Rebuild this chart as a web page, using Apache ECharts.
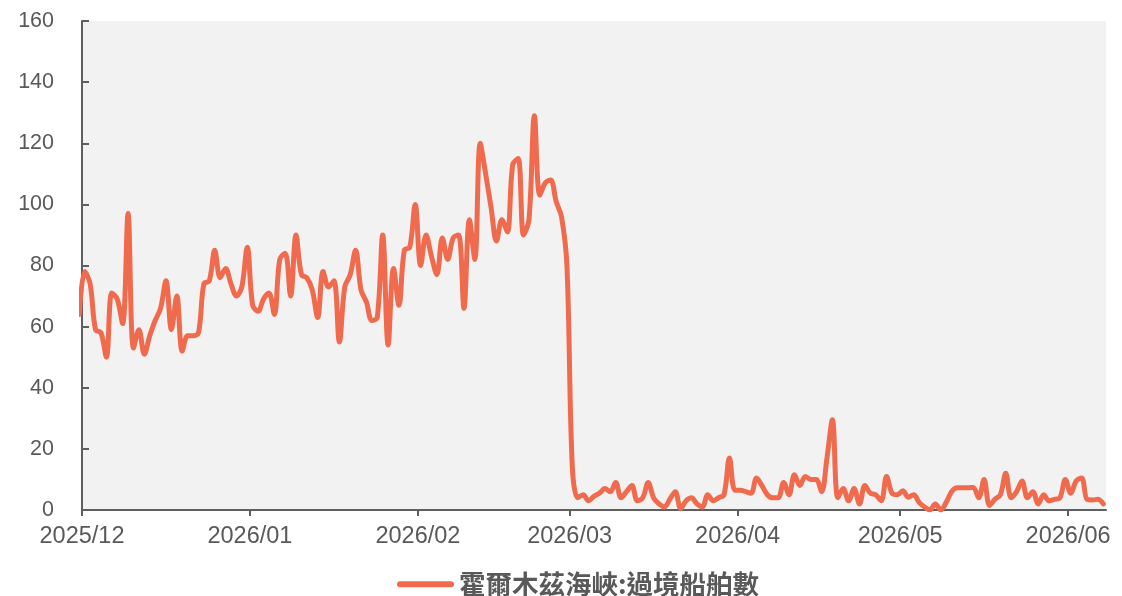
<!DOCTYPE html>
<html>
<head>
<meta charset="utf-8">
<script src="https://cdn.jsdelivr.net/npm/echarts@6/dist/echarts.min.js"></script>
<style>
  html, body { margin: 0; padding: 0; background: #ffffff; }
  #chart { width: 1122px; height: 596px; }
</style>
</head>
<body>
<div id="chart"></div>
<script>
// Daily transits, one value per day (plotted at midday), first point is 2025-11-30
const seriesName = '霍爾木茲海峽:過境船舶數';
const startDay = [2025, 10, 30];
const nov = [64];
const dec = [78, 74, 59, 58, 50, 71, 69, 61, 97, 53, 59, 51, 57, 62, 66, 75, 59, 70, 52, 57, 57, 58, 74, 75, 85, 76, 79, 74, 70, 73, 86];
const jan = [67, 65, 69, 71, 64, 82, 84, 70, 90, 77, 76, 72, 63, 78, 73, 75, 55, 73, 77, 85, 72, 68, 62, 63, 90, 54, 79, 67, 85, 86, 100];
const feb = [80, 90, 83, 77, 89, 82, 89, 90, 66, 95, 82, 120, 110, 99, 88, 95, 91, 113, 115, 90, 95, 129, 103, 107, 108, 101, 96, 80];
const mar = [14, 4, 5, 3, 4.5, 5.5, 7, 6, 9, 4, 6, 8, 3, 4, 9, 4, 2, 1, 3.5, 6, 0.5, 3, 4, 2, 1, 5, 3, 4, 5, 17, 6.5];
const apr = [6.5, 6, 5.5, 10.5, 8, 5, 4, 4, 9, 5, 11.5, 8, 11, 10, 10, 6, 17, 29.5, 4, 7, 3, 7, 2, 8, 5.5, 5, 3, 11, 5.5, 5];
const may = [6.3, 4.2, 5, 2.5, 1, 0, 2, 0, 2.5, 6, 7.3, 7.3, 7.3, 7.4, 4, 10, 1.5, 3.5, 5, 12, 4, 6, 9.5, 4, 6, 2, 5, 3, 3.5, 4, 10];
const jun = [5.5, 9.5, 10.5, 3.5, 3.3, 3.5, 2];
const yTicks = [0, 20, 40, 60, 80, 100, 120, 140, 160];

const values = [].concat(nov, dec, jan, feb, mar, apr, may, jun);
const data = values.map(function (v, i) {
  const d = new Date(startDay[0], startDay[1], startDay[2] + i, 12, 0, 0);
  return [d.getTime(), v];
});

const DAY = 86400000;
const chart = echarts.init(document.getElementById('chart'), null, { renderer: 'canvas' });
const numFont = 'Liberation Sans, Arial, sans-serif';
const axisColor = '#5f5f5f';
chart.setOption({
  animation: false,
  backgroundColor: '#ffffff',
  grid: {
    left: 82, right: 16, top: 21, bottom: 86,
    show: true, backgroundColor: '#f2f2f2', borderWidth: 0
  },
  legend: {
    left: 392, top: 566,
    data: [seriesName],
    icon: 'path://M3,0 L54,0 A3,3 0 0 1 54,6 L3,6 A3,3 0 0 1 3,0 Z',
    itemWidth: 57, itemHeight: 6,
    itemGap: 10,
    textStyle: {
      fontFamily: 'Noto Sans CJK TC, sans-serif',
      fontWeight: 'bold', fontSize: 26.5, color: '#595959'
    }
  },
  xAxis: {
    type: 'time',
    min: new Date(2025, 11, 1).getTime(),
    max: new Date(2026, 5, 8).getTime(),
    minInterval: 28 * DAY,
    maxInterval: 31 * DAY,
    axisLine: { show: true, lineStyle: { color: axisColor, width: 2 } },
    axisTick: { show: true, length: 6, lineStyle: { color: axisColor, width: 2 } },
    splitLine: { show: false },
    axisLabel: {
      fontFamily: numFont, fontSize: 23.5, color: '#595959', margin: 15,
      formatter: function (v) {
        const d = new Date(v);
        return d.getFullYear() + '/' + String(d.getMonth() + 1).padStart(2, '0');
      }
    }
  },
  yAxis: {
    type: 'value',
    min: yTicks[0], max: yTicks[yTicks.length - 1], interval: yTicks[1] - yTicks[0],
    axisLine: { show: true, lineStyle: { color: axisColor, width: 2 } },
    axisTick: { show: true, inside: true, length: 7, lineStyle: { color: axisColor, width: 2 } },
    splitLine: { show: false },
    axisLabel: { fontFamily: numFont, fontSize: 21.5, color: '#595959', margin: 28 }
  },
  series: [{
    name: seriesName,
    type: 'line',
    data: data,
    symbol: 'none',
    smooth: 0.35,
    clip: true,
    lineStyle: { color: '#f06a4d', width: 5, cap: 'round', join: 'round' },
    itemStyle: { color: '#f06a4d' }
  }]
});
</script>
</body>
</html>
